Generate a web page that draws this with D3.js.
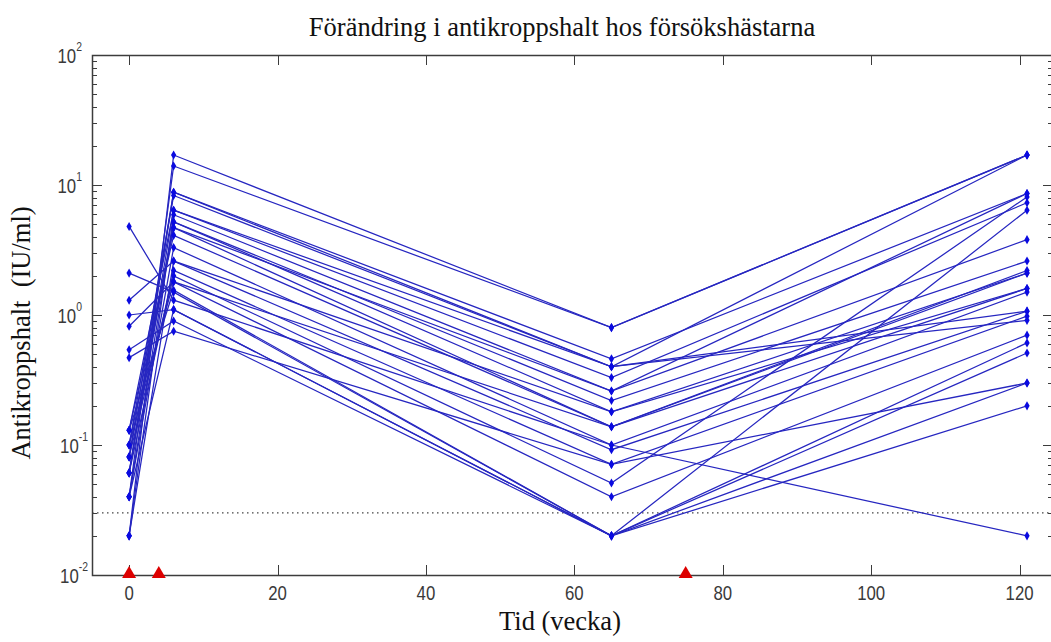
<!DOCTYPE html>
<html>
<head>
<meta charset="utf-8">
<title></title>
<script src="https://d3js.org/d3.v7.min.js"></script>
<style>
  body { margin: 0; background: #fff; }
  .tick-label { font-family: "Liberation Sans", Arial, sans-serif; fill: #3a3a3a; }
  .serif { font-family: "Liberation Serif", "Times New Roman", serif; fill: #111; white-space: pre; }
</style>
</head>
<body>
<svg id="chart" width="1051" height="642"></svg>
<script>
// sampling weeks
var weeks = [0, 6, 65, 121]

// antibody level per horse, one value per week above
var horses = [
  [0.02, 17, 0.8, 17],
  [0.04, 14, 0.8, 17],
  [0.061, 8.8, 0.46, 8.6],
  [0.081, 8.8, 0.40, 0.91],
  [0.10, 8.3, 0.40, 17],
  [0.13, 6.4, 0.33, 7.3],
  [0.02, 5.9, 0.26, 3.8],
  [0.04, 5.2, 0.22, 2.6],
  [0.061, 5.2, 0.18, 2.1],
  [0.081, 4.7, 0.26, 8.6],
  [0.10, 4.7, 0.138, 2.2],
  [0.13, 4.1, 0.138, 1.6],
  [0.04, 3.3, 0.10, 1.5],
  [0.02, 2.6, 0.092, 1.07],
  [0.061, 2.2, 0.071, 0.98],
  [0.081, 2.0, 0.051, 8.1],
  [0.10, 1.8, 0.04, 0.70],
  [0.13, 1.55, 0.02, 6.4],
  [0.04, 1.1, 0.02, 0.61],
  [4.8, 1.3, 0.10, 0.02],
  [2.1, 1.5, 0.02, 0.51],
  [1.3, 2.6, 0.18, 1.6],
  [1.0, 1.1, 0.02, 0.30],
  [0.82, 1.8, 0.138, 2.1],
  [0.54, 0.9, 0.02, 0.20],
  [0.47, 0.75, 0.071, 0.30],
  [0.061, 6.4, 0.40, 1.07]
]

// vaccination weeks (red triangles)
var vaccinations = [0, 4, 75]
var threshold = 0.03

var xTicks = [0, 20, 40, 60, 80, 100, 120]
var yExponents = [-2, -1, 0, 1, 2]

var titleText = "Förändring i antikroppshalt hos försökshästarna"
var xLabelText = "Tid (vecka)"
var yLabelText = "Antikroppshalt  (IU/ml)"

var plotLeft = 92, plotRight = 1053, plotTop = 55, plotBottom = 575

var svg = d3.select("#chart")

var x = d3.scaleLinear().domain([-5, 124.5]).range([plotLeft, plotRight])
var y = d3.scaleLog().domain([0.01, 100]).range([plotBottom, plotTop])

var axisColor = "#3c3c3c"

// minor log ticks
var minor = []
for (var e = -2; e < 2; e++) {
  for (var m = 2; m <= 9; m++) minor.push(m * Math.pow(10, e))
}

var ticks = svg.append("g").attr("stroke", axisColor).attr("stroke-width", 1)
ticks.selectAll(".ymin").data(minor).enter().append("path")
  .attr("d", function(d) {
    var yy = Math.round(y(d)) + 0.5
    return "M" + plotLeft + "," + yy + "h5M" + plotRight + "," + yy + "h-5"
  })
ticks.selectAll(".ymaj").data(yExponents).enter().append("path")
  .attr("d", function(d) {
    var yy = Math.round(y(Math.pow(10, d))) + 0.5
    return "M" + plotLeft + "," + yy + "h10M" + plotRight + "," + yy + "h-10"
  })
ticks.selectAll(".xmaj").data(xTicks).enter().append("path")
  .attr("d", function(d) {
    var xx = Math.round(x(d)) + 0.5
    return "M" + xx + "," + plotBottom + "v-10M" + xx + "," + plotTop + "v10"
  })

// threshold
svg.append("line")
  .attr("x1", plotLeft).attr("x2", plotRight)
  .attr("y1", y(threshold)).attr("y2", y(threshold))
  .attr("stroke", "#444").attr("stroke-width", 1.2)
  .attr("stroke-dasharray", "1.5,3.5")

// lines per horse
var line = d3.line()
  .x(function(d, i) { return x(weeks[i]) })
  .y(function(d) { return y(d) })

svg.append("g").selectAll("path").data(horses).enter().append("path")
  .attr("d", line)
  .attr("fill", "none")
  .attr("stroke", "#2626c0")
  .attr("stroke-width", 1.25)

var pts = []
horses.forEach(function(h) {
  h.forEach(function(v, i) { pts.push({ w: weeks[i], v: v }) })
})
svg.append("g").selectAll("path").data(pts).enter().append("path")
  .attr("transform", function(d) { return "translate(" + x(d.w) + "," + y(d.v) + ")" })
  .attr("d", d3.symbol().type(d3.symbolDiamond).size(24))
  .attr("fill", "#0a0ae0")

// box
svg.append("rect")
  .attr("x", plotLeft + 0.5).attr("y", plotTop + 0.5)
  .attr("width", plotRight - plotLeft).attr("height", plotBottom - plotTop)
  .attr("fill", "none").attr("stroke", axisColor).attr("stroke-width", 1.5)

// vaccination triangles
svg.append("g").selectAll("path").data(vaccinations).enter().append("path")
  .attr("transform", function(d) { return "translate(" + x(d) + "," + (plotBottom - 1) + ")" })
  .attr("d", "M0,-8L7,4L-7,4Z")
  .attr("fill", "#dd0000")

// tick labels, drawn narrow like the original
svg.append("g").selectAll("text").data(xTicks).enter().append("text")
  .attr("class", "tick-label")
  .attr("transform", function(d) { return "translate(" + x(d) + ",600) scale(0.8,1)" })
  .attr("text-anchor", "middle")
  .style("font-size", "21px")
  .text(function(d) { return d })

var yl = svg.append("g").selectAll("text").data(yExponents).enter().append("text")
  .attr("class", "tick-label")
  .attr("text-anchor", "end")
  .style("font-size", "21px")
yl.append("tspan").text("10")
yl.append("tspan").attr("dy", -12).style("font-size", "13px").text(function(d) { return d })

// the exponent is part of the end-anchored text, so shift the labels right by its width
yl.attr("transform", function(d) {
  return "translate(" + (d < 0 ? 88 : 82) + "," + (y(Math.pow(10, d)) + 8) + ") scale(0.8,1)"
})

// titles
svg.append("text").attr("class", "serif")
  .attr("x", 562).attr("y", 36).attr("text-anchor", "middle")
  .style("font-size", "26.5px").text(titleText)

svg.append("text").attr("class", "serif")
  .attr("x", 560).attr("y", 630).attr("text-anchor", "middle")
  .style("font-size", "26.5px").text(xLabelText)

svg.append("text").attr("class", "serif")
  .attr("transform", "translate(30,333) rotate(-90)")
  .attr("text-anchor", "middle")
  .style("font-size", "26.5px").text(yLabelText)
</script>
</body>
</html>
